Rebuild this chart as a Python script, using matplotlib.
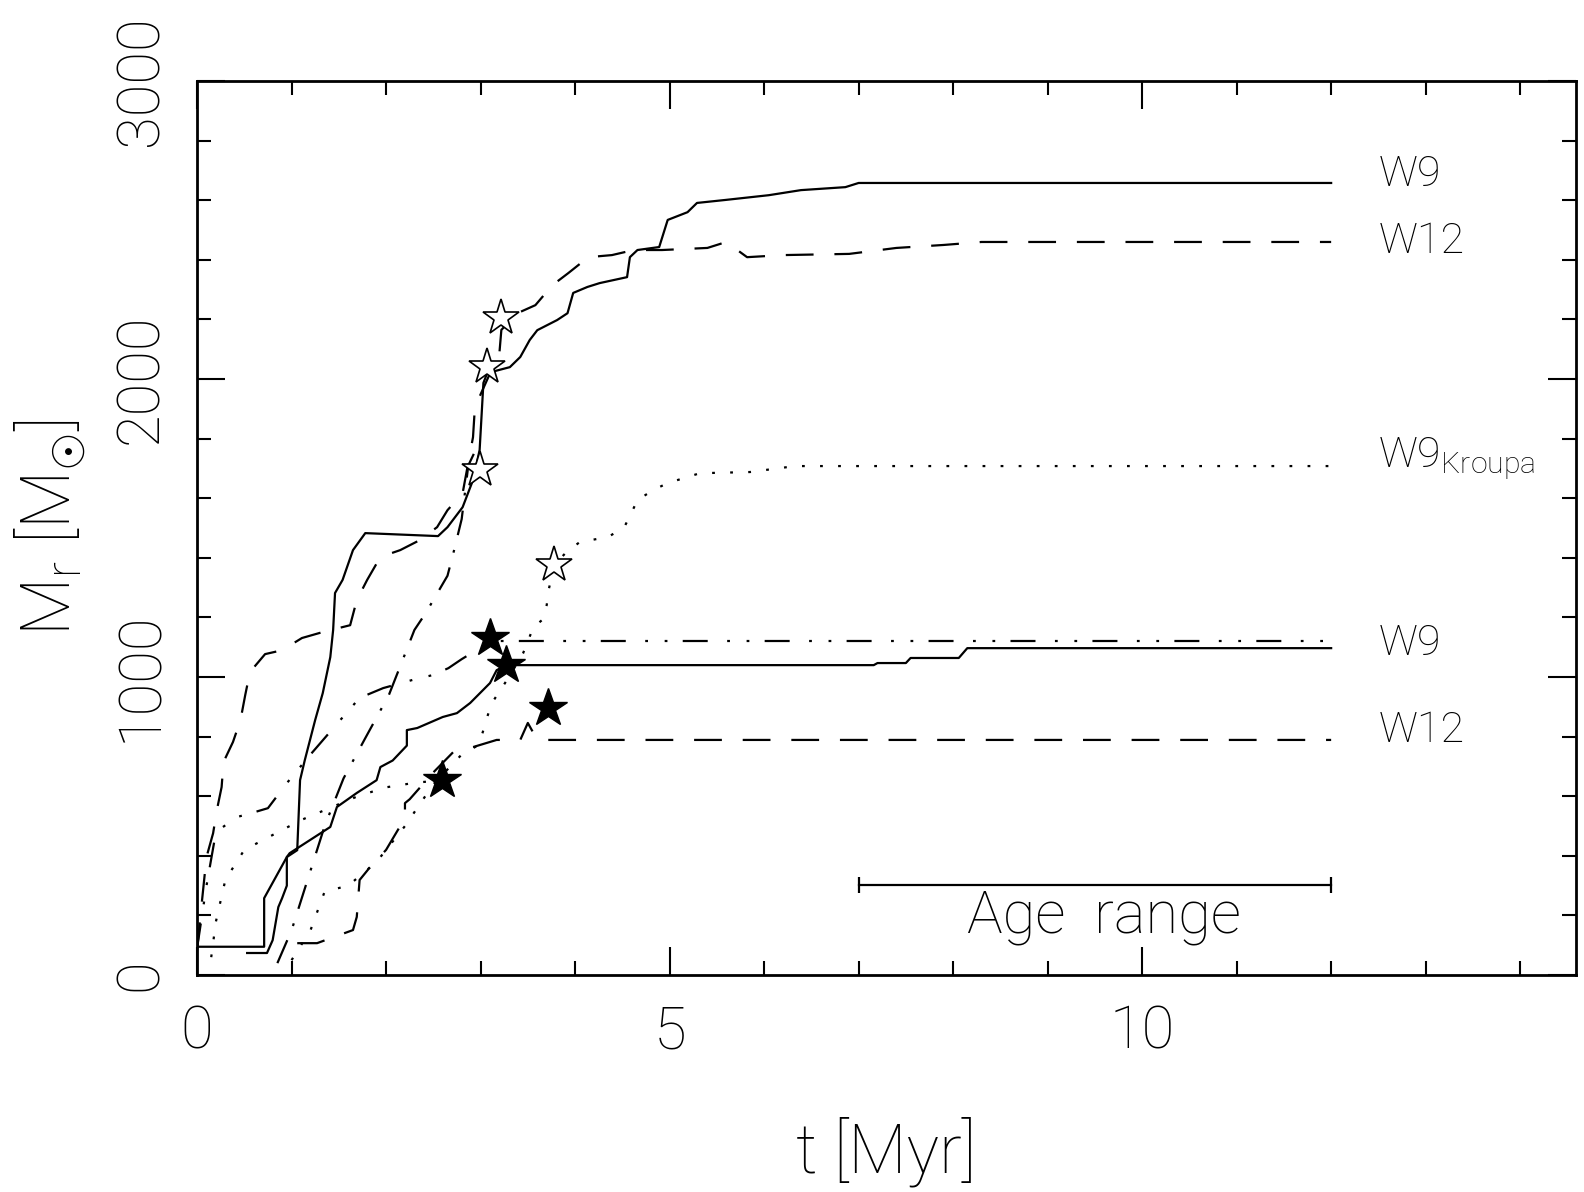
import matplotlib.pyplot as plt
from matplotlib.ticker import MultipleLocator

plt.rcParams['font.family'] = ['Roboto', 'DejaVu Sans']
plt.rcParams['font.weight'] = 'light'
plt.rcParams['axes.labelweight'] = 'light'
plt.rcParams['mathtext.fontset'] = 'custom'
plt.rcParams['mathtext.rm'] = 'Roboto:light'
plt.rcParams['lines.scale_dashes'] = False

# upper group: W9 (solid), W12 (dashed), W9 Kroupa (dotted), extra dash-dot run
t_w9_hi = [0, 0.71, 0.71, 0.95, 1.06, 1.09, 1.14, 1.25, 1.33, 1.41, 1.44, 1.46, 1.54, 1.65, 1.78,
           2.55, 2.65, 2.81, 2.92, 2.99, 3.03, 3.07, 3.31, 3.42, 3.52, 3.6, 3.81, 3.92, 3.98, 4.13,
           4.26, 4.55, 4.58, 4.66, 4.89, 4.98, 5.19, 5.29, 5.59, 6.05, 6.39, 6.86, 7.0, 12.0]
m_w9_hi = [95, 95, 258, 396, 419, 654, 721, 856, 946, 1067, 1158, 1282, 1326, 1426, 1483,
           1473, 1503, 1570, 1661, 1762, 1987, 2020, 2040, 2074, 2131, 2164, 2198, 2221, 2289, 2309,
           2322, 2342, 2409, 2433, 2443, 2534, 2560, 2591, 2601, 2617, 2634, 2644, 2658, 2658]

t_w12_hi = [0, 0.05, 0.1, 0.17, 0.21, 0.26, 0.28, 0.38, 0.46, 0.51, 0.56, 0.72, 0.9, 1.11, 1.33,
            1.62, 1.69, 1.8, 1.94, 2.15, 2.36, 2.54, 2.65, 2.81, 2.92, 2.94, 3.2, 3.22, 3.39, 3.58,
            3.76, 3.93, 4.14, 4.39, 4.62, 4.92, 5.4, 5.6, 5.82, 6.2, 6.9, 7.4, 7.9, 8.3, 12.0]
m_w12_hi = [84, 242, 396, 476, 554, 631, 715, 782, 856, 940, 1017, 1077, 1090, 1131, 1151,
            1174, 1258, 1326, 1403, 1426, 1460, 1503, 1560, 1617, 1805, 1906, 2090, 2165, 2221, 2248,
            2315, 2356, 2409, 2416, 2433, 2433, 2440, 2460, 2409, 2416, 2420, 2440, 2450, 2460, 2460]

t_kroupa = [1.0, 1.2, 1.35, 1.6, 1.9, 2.2, 2.5, 2.8, 2.98, 3.03, 3.07, 3.12, 3.3, 3.45, 3.56, 3.65,
            3.7, 3.72, 3.78, 3.91, 4.05, 4.35, 4.52, 4.58, 4.66, 4.83, 4.98, 5.32, 5.85, 6.33, 12.0]
m_kroupa = [50, 150, 280, 300, 380, 500, 640, 740, 772, 822, 866, 913, 1000, 1080, 1168, 1191,
            1242, 1292, 1376, 1420, 1453, 1470, 1503, 1540, 1594, 1628, 1651, 1684, 1688, 1708, 1708]

t_dd_hi = [0.85, 1.0, 1.15, 1.35, 1.55, 1.78, 2.03, 2.21, 2.3, 2.42, 2.65, 2.72, 2.8, 2.87, 2.93]
m_dd_hi = [40, 150, 300, 500, 660, 795, 940, 1085, 1158, 1215, 1340, 1426, 1530, 1710, 1750]

# lower group: W9 (solid + dash-dot-dot), W12 (dashed), dotted run
t_w9_lo = [0.53, 0.74, 0.8, 0.86, 0.9, 0.95, 0.95, 0.98, 1.41, 1.48, 1.69, 1.9, 1.94, 2.07, 2.22,
           2.22, 2.33, 2.6, 2.75, 2.89, 3.1, 3.17, 3.27, 7.16, 7.2, 7.5, 7.55, 8.06, 8.15, 12.0]
m_w9_lo = [74, 74, 117, 228, 258, 300, 396, 409, 497, 564, 611, 654, 698, 720, 770,
           822, 829, 866, 879, 913, 980, 1023, 1040, 1040, 1047, 1047, 1064, 1064, 1097, 1097]

t_w9b_lo = [0.0, 0.1, 0.2, 0.42, 0.58, 0.75, 0.95, 1.2, 1.5, 1.72, 1.97, 2.31, 2.5, 2.66, 2.8,
            2.96, 3.1, 12.0]
m_w9b_lo = [90, 300, 480, 530, 544, 560, 644, 740, 850, 930, 963, 993, 1007, 1030, 1060,
            1091, 1121, 1121]

t_w12_lo = [1.06, 1.27, 1.65, 1.69, 1.72, 1.83, 2.0, 2.2, 2.2, 2.25, 2.5, 2.71, 2.92, 3.17, 3.42,
            3.5, 3.6, 12.0]
m_w12_lo = [107, 107, 151, 195, 319, 362, 420, 527, 577, 590, 680, 748, 765, 789, 789,
            846, 789, 789]

t_dot_lo = [0.15, 0.2, 0.3, 0.5, 0.8, 1.1, 1.4, 1.7, 2.0, 2.3, 2.59]
m_dot_lo = [60, 180, 320, 420, 470, 520, 560, 600, 630, 645, 654]

# star markers
t_open = [3.22, 3.07, 2.99, 3.78]
m_open = [2205, 2040, 1695, 1376]
t_full = [3.10, 3.27, 3.71, 2.59]
m_full = [1131, 1040, 896, 654]

fig = plt.figure(figsize=(15.84, 11.92), dpi=100)
ax = fig.add_axes([0.1244, 0.182, 0.8705, 0.75])

dashed = (0, (20, 15))
dotted = (0, (2, 11))
dashdot = (0, (18, 11, 2, 11))
dashdotdot = (0, (18, 14, 2, 12, 2, 11))
lw = 1.6

ax.plot(t_w9_hi, m_w9_hi, color='k', lw=lw)
ax.plot(t_w12_hi, m_w12_hi, color='k', lw=lw, ls=dashed)
ax.plot(t_kroupa, m_kroupa, color='k', lw=lw, ls=dotted)
ax.plot(t_dd_hi, m_dd_hi, color='k', lw=lw, ls=dashdot)
ax.plot(t_w9_lo, m_w9_lo, color='k', lw=lw)
ax.plot(t_w9b_lo, m_w9b_lo, color='k', lw=lw, ls=dashdotdot)
ax.plot(t_w12_lo, m_w12_lo, color='k', lw=lw, ls=dashed)
ax.plot(t_dot_lo, m_dot_lo, color='k', lw=lw, ls=dotted)

ax.plot(t_open, m_open, ls='none', marker='*', ms=27, mfc='white', mec='k', mew=1.2, zorder=5)
ax.plot(t_full, m_full, ls='none', marker='*', ms=29, mfc='k', mec='k', zorder=5)

# age range bar
ax.plot([7, 12], [302, 302], color='k', lw=lw, marker='|', ms=12, mew=lw)
ax.text(9.6, 144, 'Age  range', fontsize=43, ha='center', va='baseline')

# curve labels
ax.text(12.5, 2685, 'W9', fontsize=31, va='center')
ax.text(12.5, 2463, 'W12', fontsize=31, va='center')
ax.text(12.5, 1732, 'W9$_\\mathregular{Kroupa}$', fontsize=31, va='center')
ax.text(12.5, 1114, 'W9', fontsize=31, va='center')
ax.text(12.5, 822, 'W12', fontsize=31, va='center')

ax.set_xlim(0, 14.59)
ax.set_ylim(0, 3000)
ax.xaxis.set_major_locator(MultipleLocator(5))
ax.xaxis.set_minor_locator(MultipleLocator(1))
ax.yaxis.set_major_locator(MultipleLocator(1000))
ax.yaxis.set_minor_locator(MultipleLocator(200))
ax.tick_params(which='both', direction='in', top=True, right=True, width=1.5)
ax.tick_params(which='major', length=20)
ax.tick_params(which='minor', length=10)
ax.tick_params(axis='x', labelsize=43, pad=21)
ax.tick_params(axis='y', labelsize=43, pad=20, labelrotation=90)
plt.setp(ax.get_yticklabels(), va='center')
for s in ax.spines.values():
    s.set_linewidth(2)

ax.set_xlabel('t [Myr]', fontsize=49, fontweight='light')
ax.set_ylabel('M$_\\mathregular{r}$ [M$_{{\\odot}}$]', fontsize=49, fontweight='light')
ax.xaxis.set_label_coords(0.5, -0.158)
ax.yaxis.set_label_coords(-0.079, 0.5)

fig.savefig('out.png', dpi=100)
